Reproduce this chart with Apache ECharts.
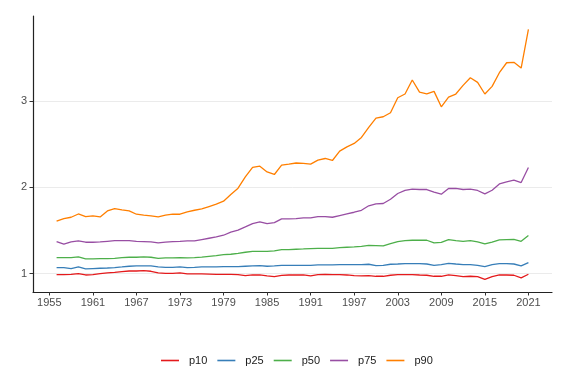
<!DOCTYPE html>
<html>
<head>
<meta charset="utf-8">
<script src="https://cdn.jsdelivr.net/npm/echarts@6/dist/echarts.min.js"></script>
<style>
html,body{margin:0;padding:0;background:#fff;}
#chart{width:568px;height:382px;}
</style>
</head>
<body>
<div id="chart"></div>
<script>
var years = [1956,1957,1958,1959,1960,1961,1962,1963,1964,1965,1966,1967,1968,1969,1970,1971,1972,1973,1974,1975,1976,1977,1978,1979,1980,1981,1982,1983,1984,1985,1986,1987,1988,1989,1990,1991,1992,1993,1994,1995,1996,1997,1998,1999,2000,2001,2002,2003,2004,2005,2006,2007,2008,2009,2010,2011,2012,2013,2014,2015,2016,2017,2018,2019,2020,2021];
var p10 = [0.988,0.988,0.992,1.0,0.984,0.988,1.0,1.008,1.015,1.023,1.03,1.03,1.034,1.027,1.008,1.003,1.003,1.008,0.996,0.996,0.996,0.994,0.992,0.992,0.99,0.988,0.977,0.984,0.984,0.973,0.965,0.98,0.984,0.984,0.984,0.973,0.988,0.992,0.988,0.988,0.984,0.977,0.973,0.977,0.969,0.969,0.981,0.988,0.988,0.988,0.984,0.981,0.969,0.969,0.984,0.977,0.965,0.969,0.965,0.934,0.965,0.984,0.984,0.981,0.95,0.992];
var p25 = [1.07,1.07,1.058,1.077,1.054,1.058,1.062,1.065,1.07,1.077,1.085,1.089,1.089,1.089,1.077,1.073,1.073,1.077,1.07,1.073,1.077,1.077,1.077,1.081,1.081,1.081,1.085,1.089,1.093,1.085,1.089,1.096,1.096,1.096,1.096,1.096,1.1,1.1,1.1,1.104,1.104,1.104,1.104,1.108,1.093,1.096,1.108,1.111,1.116,1.116,1.116,1.111,1.096,1.104,1.119,1.111,1.104,1.104,1.096,1.081,1.104,1.116,1.116,1.111,1.089,1.127];
var p50 = [1.185,1.185,1.185,1.193,1.17,1.17,1.174,1.174,1.177,1.185,1.189,1.189,1.193,1.189,1.177,1.181,1.181,1.185,1.181,1.185,1.19,1.2,1.208,1.22,1.224,1.235,1.247,1.258,1.258,1.258,1.262,1.278,1.278,1.282,1.285,1.29,1.293,1.293,1.293,1.3,1.305,1.309,1.316,1.326,1.324,1.32,1.348,1.371,1.382,1.386,1.386,1.386,1.355,1.362,1.394,1.382,1.374,1.382,1.366,1.343,1.363,1.39,1.394,1.397,1.374,1.44];
var p75 = [1.371,1.34,1.366,1.378,1.363,1.363,1.366,1.374,1.382,1.382,1.382,1.374,1.371,1.366,1.355,1.363,1.371,1.374,1.378,1.378,1.394,1.409,1.424,1.444,1.479,1.502,1.54,1.579,1.598,1.579,1.59,1.633,1.633,1.637,1.645,1.645,1.66,1.66,1.652,1.672,1.691,1.71,1.733,1.785,1.807,1.811,1.861,1.927,1.962,1.977,1.973,1.973,1.942,1.919,1.985,1.985,1.973,1.977,1.962,1.923,1.965,2.038,2.062,2.081,2.054,2.228];
var p90 = [1.606,1.637,1.652,1.69,1.66,1.667,1.656,1.725,1.753,1.737,1.725,1.687,1.676,1.667,1.656,1.676,1.687,1.687,1.714,1.733,1.749,1.776,1.803,1.838,1.915,1.988,2.12,2.23,2.243,2.177,2.147,2.255,2.267,2.28,2.275,2.267,2.313,2.332,2.309,2.417,2.467,2.506,2.576,2.692,2.8,2.815,2.861,3.035,3.078,3.24,3.1,3.08,3.109,2.93,3.043,3.078,3.178,3.267,3.213,3.078,3.167,3.325,3.44,3.445,3.379,3.827];
var xTicks = [1955,1961,1967,1973,1979,1985,1991,1997,2003,2009,2015,2021];
var yTicks = [1,2,3];
var seriesNames = ['p10','p25','p50','p75','p90'];
var seriesColors = ['#e41a1c','#377eb8','#4daf4a','#984ea3','#ff7f00'];
var seriesValues = [p10,p25,p50,p75,p90];

var font = 'Liberation Sans, Arial, Helvetica, sans-serif';
var chart = echarts.init(document.getElementById('chart'), null, {renderer:'canvas'});

var series = seriesNames.map(function(name, i){
  return {
    name: name,
    type: 'line',
    data: years.map(function(y, j){ return [y, seriesValues[i][j]]; }),
    showSymbol: false,
    symbol: 'none',
    lineStyle: {color: seriesColors[i], width: 1.3},
    itemStyle: {color: seriesColors[i]},
    emphasis: {disabled: true},
    animation: false
  };
});

chart.setOption({
  animation: false,
  backgroundColor: '#fff',
  grid: {left: 33, right: 16, top: 16, bottom: 90, containLabel: false},
  xAxis: {
    type: 'value',
    min: 1952.75,
    max: 2024.25,
    axisLine: {show: true, lineStyle: {color: '#222', width: 1.2}},
    axisTick: {show: true, length: 3.5, lineStyle: {color: '#333', width: 1}, customValues: xTicks},
    axisLabel: {show: true, customValues: xTicks, color: '#4d4d4d', fontSize: 11, fontFamily: font, margin: 5,
      formatter: function(v){ return String(v); }},
    splitLine: {show: false}
  },
  yAxis: {
    type: 'value',
    min: 0.787,
    max: 3.981,
    axisLine: {show: true, lineStyle: {color: '#222', width: 1.2}},
    axisTick: {show: true, length: 3.5, lineStyle: {color: '#333', width: 1}, customValues: yTicks},
    axisLabel: {show: true, customValues: yTicks, color: '#4d4d4d', fontSize: 11, fontFamily: font, margin: 6,
      formatter: function(v){ return String(v); }},
    splitLine: {show: true, lineStyle: {color: '#ebebeb', width: 1}}
  },
  legend: {
    data: seriesNames,
    left: 161,
    top: 355,
    padding: 0,
    orient: 'horizontal',
    icon: 'rect',
    itemWidth: 18,
    itemHeight: 1.6,
    itemGap: 10,
    textStyle: {color: '#1a1a1a', fontSize: 11, fontFamily: font, padding: [0,0,0,5]},
    selectedMode: false
  },
  series: series
});
</script>
</body>
</html>
